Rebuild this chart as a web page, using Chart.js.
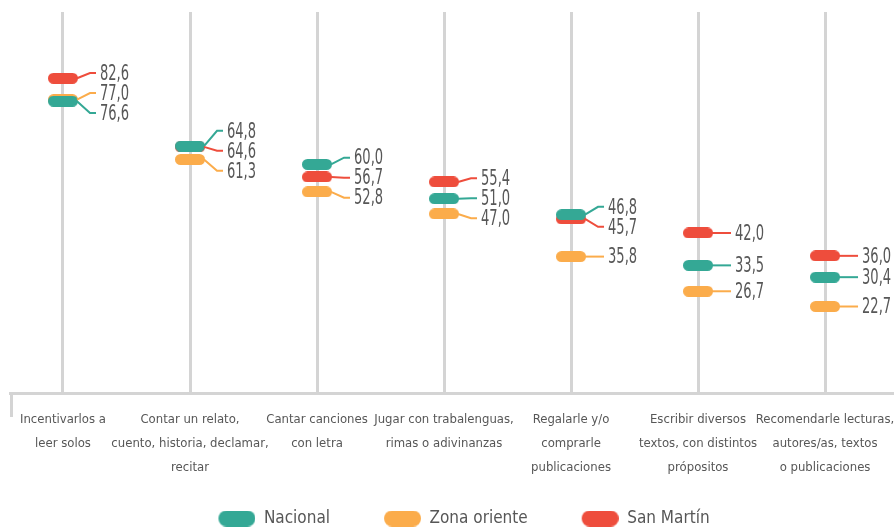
<!DOCTYPE html>
<html><head><meta charset="utf-8">
<script src="https://cdn.jsdelivr.net/npm/chart.js@4"></script>
<style>html,body{margin:0;padding:0;overflow:hidden;background:#fff}
#wrap{width:894px;height:537px;position:relative}</style></head>
<body><div id="wrap"><canvas id="c"></canvas></div>
<script>
const categories = [
  ['Incentivarlos a', 'leer solos'],
  ['Contar un relato,', 'cuento, historia, declamar,', 'recitar'],
  ['Cantar canciones', 'con letra'],
  ['Jugar con trabalenguas,', 'rimas o adivinanzas'],
  ['Regalarle y/o', 'comprarle', 'publicaciones'],
  ['Escribir diversos', 'textos, con distintos', 'própositos'],
  ['Recomendarle lecturas,', 'autores/as, textos', 'o publicaciones']
];
const seriesNames = ['Nacional', 'Zona oriente', 'San Martín'];
const nacional = [76.6, 64.8, 60.0, 51.0, 46.8, 33.5, 30.4];
const zonaOriente = [77.0, 61.3, 52.8, 47.0, 35.8, 26.7, 22.7];
const sanMartin = [82.6, 64.6, 56.7, 55.4, 45.7, 42.0, 36.0];
const seriesValues = [nacional, zonaOriente, sanMartin];
const colors = ['#34a895', '#fbac4b', '#ee4d3c'];

const FONT = '"DejaVu Sans Condensed","DejaVu Sans",sans-serif';
const TEXT = '#575757';
const GRID = '#d4d4d4';

function pill(color, w, h, marginLeft) {
  const ml = marginLeft || 0;
  const c = document.createElement('canvas');
  c.width = w + ml; c.height = h;
  const x = c.getContext('2d');
  const r = h / 2;
  x.fillStyle = color;
  x.beginPath();
  x.moveTo(ml + r, 0);
  x.lineTo(ml + w - r, 0);
  x.arc(ml + w - r, r, r, -Math.PI / 2, Math.PI / 2);
  x.lineTo(ml + r, h);
  x.arc(ml + r, r, r, Math.PI / 2, Math.PI * 1.5);
  x.closePath();
  x.fill();
  return c;
}

function layoutLabels(items, gap) {
  const s = [...items].sort((a, b) => a.y - b.y);
  let cl = s.map(it => ({ m: [it], c: it.y }));
  let merged = true;
  while (merged) {
    merged = false;
    for (let k = 0; k < cl.length - 1; k++) {
      const a = cl[k], b = cl[k + 1];
      const aBot = a.c + (a.m.length - 1) / 2 * gap;
      const bTop = b.c - (b.m.length - 1) / 2 * gap;
      if (bTop - aBot < gap) {
        const m = a.m.concat(b.m);
        const c = m.reduce((t, q) => t + q.y, 0) / m.length;
        cl.splice(k, 2, { m, c });
        merged = true;
        break;
      }
    }
  }
  cl.forEach(cc => cc.m.forEach((it, j) => { it.ly = cc.c + (j - (cc.m.length - 1) / 2) * gap; }));
}

const labelPlugin = {
  id: 'valueLabels',
  afterDatasetsDraw(chart) {
    const ctx = chart.ctx;
    ctx.save();
    ctx.font = '22px ' + FONT;
    ctx.textBaseline = 'middle';
    ctx.textAlign = 'left';
    ctx.lineWidth = 2;
    categories.forEach((c, i) => {
      const items = chart.data.datasets.map((ds, d) => {
        const el = chart.getDatasetMeta(d).data[i];
        return { x: el.x, y: el.y, v: ds.data[i].y, color: ds.borderColor };
      });
      layoutLabels(items, 20);
      items.forEach(it => {
        ctx.strokeStyle = it.color;
        ctx.beginPath();
        ctx.moveTo(it.x + 14, it.y);
        if (Math.abs(it.ly - it.y) < 0.5) {
          ctx.lineTo(it.x + 33, it.y);
        } else {
          ctx.lineTo(it.x + 27, it.ly);
          ctx.lineTo(it.x + 33, it.ly);
        }
        ctx.stroke();
        ctx.fillStyle = TEXT;
        ctx.save();
        ctx.translate(it.x + 37, it.ly + 1);
        ctx.scale(0.66, 1);
        ctx.fillText(it.v.toFixed(1).replace('.', ','), 0, 0);
        ctx.restore();
      });
    });
    ctx.restore();
  }
};

const leftTickPlugin = {
  id: 'leftTick',
  beforeDatasetsDraw(chart) {
    const { ctx, chartArea } = chart;
    ctx.save();
    ctx.strokeStyle = GRID;
    ctx.lineWidth = 3;
    ctx.beginPath();
    ctx.moveTo(chartArea.left + 1.5, chartArea.bottom);
    ctx.lineTo(chartArea.left + 1.5, chartArea.bottom + 24);
    ctx.stroke();
    ctx.restore();
  }
};

const datasets = seriesNames.map((name, d) => ({
  label: name,
  data: seriesValues[d].map((v, i) => ({ x: i, y: v })),
  borderColor: colors[d],
  backgroundColor: colors[d],
  showLine: false,
  pointStyle: pill(colors[d], 30, 11),
  pointRadius: 6
}));

new Chart(document.getElementById('c'), {
  type: 'scatter',
  data: { datasets },
  options: {
    responsive: true,
    maintainAspectRatio: false,
    animation: false,
    events: [],
    layout: { autoPadding: false, padding: { left: 10, right: 0, top: 12, bottom: 0 } },
    scales: {
      x: {
        type: 'linear',
        min: -0.4173,
        max: 6.543,
        afterBuildTicks: s => { s.ticks = categories.map((c, i) => ({ value: i })); },
        afterFit: s => { s.paddingLeft = 0; s.paddingRight = 0; s.height = 87; },
        ticks: {
          autoSkip: false,
          maxRotation: 0,
          padding: 15,
          color: TEXT,
          font: { family: FONT, size: 13, lineHeight: '24px' },
          callback: v => categories[v]
        },
        grid: { color: GRID, lineWidth: 3, drawTicks: false },
        border: { display: true, color: GRID, width: 3 }
      },
      y: { display: false, min: 0, max: 100 }
    },
    plugins: {
      tooltip: { enabled: false },
      legend: {
        position: 'bottom',
        labels: {
          usePointStyle: true,
          pointStyleWidth: 61,
          boxHeight: 16,
          padding: 30,
          color: TEXT,
          font: { family: FONT, size: 17 },
          generateLabels: chart => chart.data.datasets.map((ds, d) => ({
            text: ds.label,
            fillStyle: ds.backgroundColor,
            strokeStyle: ds.backgroundColor,
            lineWidth: 0,
            fontColor: TEXT,
            pointStyle: pill(ds.backgroundColor, 37, 16, 24),
            datasetIndex: d,
            hidden: false
          }))
        }
      }
    }
  },
  plugins: [leftTickPlugin, labelPlugin]
});
</script></body></html>
